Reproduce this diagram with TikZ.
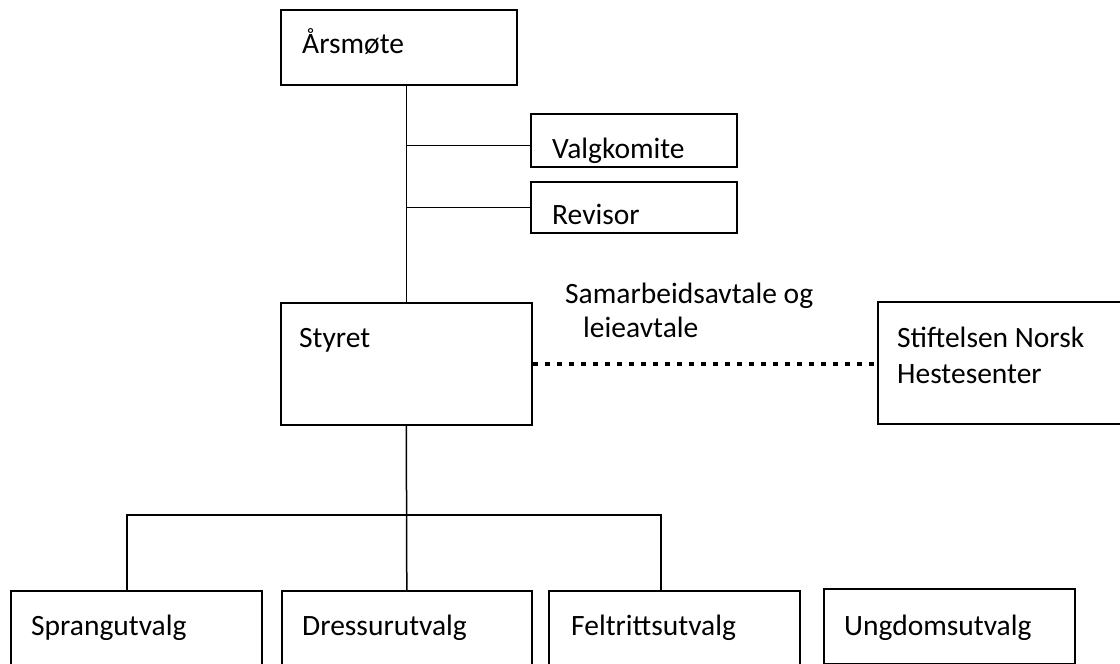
\documentclass[tikz,border=0pt]{standalone}
\usepackage{fontspec}
\setmainfont{Carlito}
\usetikzlibrary{calc,positioning}

\begin{document}
\begin{tikzpicture}[x=1pt,y=-1pt]
        \tikzset{box/.style={draw, rectangle, anchor=north west, inner sep=0pt, line width=1.6pt},
        lbl/.style={anchor=base west, inner sep=0pt, font=\fontsize{29.5}{35}\selectfont},
        link/.style={draw, line width=1.5pt},
        dots/.style={line width=4pt, dash pattern=on 5pt off 7pt},
        }
        \clip (0,0) rectangle (1120,664);
        \node[box, minimum width=236, minimum height=75] (arsmote) at (280,9) {};
        \node[box, minimum width=206, minimum height=53] (valg) at (530,113) {};
        \node[box, minimum width=206, minimum height=51] (revisor) at (530,181) {};
        \node[box, minimum width=251, minimum height=122] (styret) at (280,302) {};
        \node[box, minimum width=250, minimum height=122] (stiftelsen) at (877,301) {};
        \node[box, minimum width=251, minimum height=80] (sprang) at (10,590) {};
        \node[box, minimum width=250, minimum height=80] (dressur) at (281,590) {};
        \node[box, minimum width=251, minimum height=80] (felt) at (548,590) {};
        \node[box, minimum width=251, minimum height=75] (ungdom) at (823,588) {};

        \node[lbl] (tarsmote) at ($(arsmote.north west)+(22,44)$) {Årsmøte};
        \node[lbl] (tvalg) at ($(valg.north west)+(22,45)$) {Valgkomite};
        \node[lbl] (trevisor) at ($(revisor.north west)+(22,43)$) {Revisor};
        \node[lbl] (tstyret) at ($(styret.north west)+(19,45)$) {Styret};
        \node[lbl] (tstift1) at ($(stiftelsen.north west)+(20,46)$) {Stiftelsen Norsk};
        \node[lbl] (tstift2) at ($(stiftelsen.north west)+(20,82)$) {Hestesenter};
        \node[lbl] (tavtale1) at (565,303) {Samarbeidsavtale og};
        \node[lbl] (tavtale2) at (583,337) {leieavtale};
        \node[lbl] (tsprang) at ($(sprang.north west)+(21,45)$) {Sprangutvalg};
        \node[lbl] (tdressur) at ($(dressur.north west)+(21,45)$) {Dressurutvalg};
        \node[lbl] (tfelt) at ($(felt.north west)+(23,45)$) {Feltrittsutvalg};
        \node[lbl] (tungdom) at ($(ungdom.north west)+(21,47)$) {Ungdomsutvalg};

        \coordinate (busL) at (127,515);
        \coordinate (busR) at (661,515);

%% paths
        \path[link] (styret.north |- arsmote.south) -- (styret.north);
        \path[link] ([yshift=-5pt]styret.north |- valg.west) -- ([yshift=-5pt]valg.west);
        \path[link] (styret.north |- revisor.west) -- (revisor.west);
        \path[link] (styret.south) -- (dressur.north);
        \path[link] (busL |- sprang.north) -- (busL) -- (busR) -- (busR |- felt.north);
        \draw[dots] (styret.east) -- (styret.east -| stiftelsen.west);
\end{tikzpicture}
\end{document}
